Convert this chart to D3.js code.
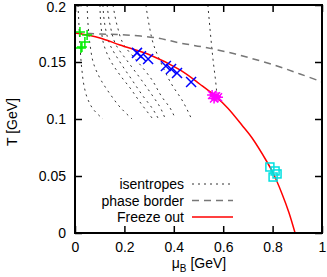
<!DOCTYPE html>
<html>
<head>
<meta charset="utf-8">
<script src="https://cdn.jsdelivr.net/npm/d3@7"></script>
<style>
body { margin: 0; background: #fff; }
text { font-family: "Liberation Sans", Arial, sans-serif; }
</style>
</head>
<body>
<script>
// isentropes, [muB, T] pairs
var isentropes = [
    [[0.012, 0.200], [0.016, 0.1825], [0.020, 0.165], [0.028, 0.143], [0.036, 0.1298], [0.053, 0.1167], [0.073, 0.1088], [0.113, 0.100]],
    [[0.049, 0.200], [0.053, 0.1825], [0.061, 0.165], [0.077, 0.1474], [0.105, 0.1342], [0.142, 0.1219], [0.182, 0.1105], [0.231, 0.100]],
    [[0.101, 0.200], [0.105, 0.1825], [0.117, 0.165], [0.142, 0.1518], [0.182, 0.1386], [0.223, 0.1272], [0.263, 0.1149], [0.312, 0.1009]],
    [[0.113, 0.200], [0.121, 0.1825], [0.142, 0.165], [0.182, 0.150], [0.231, 0.1342], [0.275, 0.1202], [0.312, 0.1096], [0.336, 0.1009]],
    [[0.130, 0.200], [0.142, 0.1825], [0.166, 0.165], [0.215, 0.150], [0.263, 0.136], [0.312, 0.121], [0.344, 0.1105], [0.364, 0.1009]],
    [[0.154, 0.200], [0.170, 0.1825], [0.198, 0.165], [0.255, 0.150], [0.312, 0.1342], [0.352, 0.1193], [0.385, 0.1096], [0.405, 0.1009]],
    [[0.287, 0.200], [0.300, 0.1825], [0.316, 0.1667], [0.352, 0.1474], [0.393, 0.1298], [0.433, 0.1167], [0.470, 0.1009]],
    [[0.538, 0.200], [0.547, 0.178], [0.559, 0.1518], [0.571, 0.1298], [0.575, 0.1202]]
];
var faseMu = [0, 0.105, 0.206, 0.332, 0.425, 0.518, 0.615, 0.709, 0.818, 0.911, 1.0];
var faseT = [0.1754, 0.1746, 0.1737, 0.1711, 0.1667, 0.1632, 0.1588, 0.1535, 0.1465, 0.1395, 0.1325];
var freezeMu = [0, 0.101, 0.182, 0.304, 0.425, 0.506, 0.567, 0.619, 0.680, 0.717, 0.777, 0.802, 0.838, 0.866, 0.891];
var freezeT = [0.1754, 0.1711, 0.1649, 0.1561, 0.143, 0.1305, 0.1203, 0.1095, 0.0935, 0.0833, 0.0625, 0.0526, 0.0345, 0.018, 0];
var verdes = [[0.020, 0.1763], [0.049, 0.1737], [0.040, 0.1675], [0.028, 0.1632], [0.024, 0.1623]];
var azules = [[0.251, 0.158], [0.267, 0.155], [0.296, 0.1526], [0.368, 0.1465], [0.389, 0.1439], [0.413, 0.1404], [0.470, 0.1325]];
var magentas = [[0.555, 0.121], [0.571, 0.120], [0.563, 0.118], [0.579, 0.119]];
var cianes = [[0.789, 0.0579], [0.810, 0.0544], [0.818, 0.0518], [0.802, 0.0491]];
var ticksX = [0, 0.2, 0.4, 0.6, 0.8, 1];
var ticksY = [0, 0.05, 0.1, 0.15, 0.2];
var leyenda = ["isentropes", "phase border", "Freeze out"];

function dibujar() {
    var svg = d3.select('body').append('svg').attr('width', 327).attr('height', 277);
    var x = d3.scaleLinear().domain([0, 1]).range([75, 322]);
    var y = d3.scaleLinear().domain([0, 0.2]).range([233, 5]);

    var clip = svg.append('defs').append('clipPath').attr('id', 'recorte');
    clip.append('rect').attr('x', 75).attr('y', 5).attr('width', 247).attr('height', 228);

    var linea = d3.line().x(d => x(d[0])).y(d => y(d[1])).curve(d3.curveMonotoneY);
    var suave = d3.line().x(d => x(d[0])).y(d => y(d[1])).curve(d3.curveCatmullRom.alpha(0.5));
    var zona = svg.append('g').attr('clip-path', 'url(#recorte)');

    zona.selectAll('.isen').data(isentropes).enter().append('path').attr('class', 'isen')
        .attr('d', linea).attr('fill', 'none').attr('stroke', '#333')
        .attr('stroke-width', 1).attr('stroke-dasharray', '2,4');

    var fase = faseMu.map((m, i) => [m, faseT[i]]);
    zona.append('path').datum(fase).attr('d', suave)
        .attr('fill', 'none').attr('stroke', '#777').attr('stroke-width', 1.5).attr('stroke-dasharray', '7,5');

    var freeze = freezeMu.map((m, i) => [m, freezeT[i]]);
    zona.append('path').datum(freeze).attr('d', suave)
        .attr('fill', 'none').attr('stroke', '#ff0000').attr('stroke-width', 1.5);

    // marcadores
    var mk = svg.append('g').attr('fill', 'none').attr('stroke-width', 1.5);
    mk.selectAll('.mas').data(verdes).enter().append('path')
        .attr('d', d => { var cx = x(d[0]), cy = y(d[1]); return `M${cx - 5},${cy}H${cx + 5}M${cx},${cy - 5}V${cy + 5}`; })
        .attr('stroke', '#00ee00');
    mk.selectAll('.cruz').data(azules).enter().append('path')
        .attr('d', d => { var cx = x(d[0]), cy = y(d[1]); return `M${cx - 5},${cy - 5}L${cx + 5},${cy + 5}M${cx - 5},${cy + 5}L${cx + 5},${cy - 5}`; })
        .attr('stroke', '#0000ff');
    mk.selectAll('.estrella').data(magentas).enter().append('path')
        .attr('d', d => {
            var cx = x(d[0]), cy = y(d[1]);
            return `M${cx - 5},${cy}H${cx + 5}M${cx},${cy - 5}V${cy + 5}M${cx - 4},${cy - 4}L${cx + 4},${cy + 4}M${cx - 4},${cy + 4}L${cx + 4},${cy - 4}`;
        })
        .attr('stroke', '#ff00ff');
    mk.selectAll('.cuadro').data(cianes).enter().append('rect')
        .attr('x', d => x(d[0]) - 4).attr('y', d => y(d[1]) - 4).attr('width', 8).attr('height', 8)
        .attr('stroke', '#00e0e0');

    // ejes con ticks hacia dentro en los cuatro lados
    var ejes = svg.append('g');
    ejes.append('g').attr('transform', 'translate(0,233)')
        .call(d3.axisBottom(x).tickValues(ticksX).tickSize(-7).tickPadding(9).tickFormat(d3.format('')));
    ejes.append('g').attr('transform', 'translate(0,5)')
        .call(d3.axisTop(x).tickValues(ticksX).tickSize(-7).tickFormat(''));
    var izq = ejes.append('g').attr('transform', 'translate(75,0)')
        .call(d3.axisLeft(y).tickValues(ticksY).tickSize(-7).tickPadding(9).tickFormat(d3.format('')));
    ejes.append('g').attr('transform', 'translate(322,0)')
        .call(d3.axisRight(y).tickValues(ticksY).tickSize(-7).tickFormat(''));
    ejes.selectAll('.domain').remove();
    ejes.selectAll('.tick line').attr('stroke', '#000').attr('stroke-width', 1.5);
    ejes.selectAll('.tick text').attr('font-size', 14).attr('fill', '#000')
        .attr('font-family', '"Liberation Sans", Arial, sans-serif');
    // el 0.2 de arriba se corta con el borde, bajarlo un poco
    izq.selectAll('.tick text').filter(d => d == 0.2).attr('dy', '0.45em');
    svg.append('rect').attr('x', 75).attr('y', 5).attr('width', 247).attr('height', 228)
        .attr('fill', 'none').attr('stroke', '#000').attr('stroke-width', 2);

    // leyenda
    var estilos = [
        { stroke: '#333', dash: '2,4', w: 1 },
        { stroke: '#777', dash: '7,5', w: 1.5 },
        { stroke: '#ff0000', dash: null, w: 1.5 }
    ];
    leyenda.forEach((t, i) => {
        var ly = 184 + i * 16.5;
        svg.append('text').attr('x', 184).attr('y', ly + 5).attr('text-anchor', 'end')
            .attr('font-size', 14).text(t);
        svg.append('line').attr('x1', 192).attr('x2', 233).attr('y1', ly).attr('y2', ly)
            .attr('stroke', estilos[i].stroke).attr('stroke-width', estilos[i].w)
            .attr('stroke-dasharray', estilos[i].dash);
    });

    // titulos de ejes
    var tx = svg.append('text').attr('x', 199).attr('y', 268).attr('text-anchor', 'middle').attr('font-size', 14);
    tx.append('tspan').text('μ');
    tx.append('tspan').attr('font-size', 10).attr('dy', 4).text('B');
    tx.append('tspan').attr('dy', -4).text(' [GeV]');
    svg.append('text').attr('transform', 'translate(17,122) rotate(-90)').attr('text-anchor', 'middle')
        .attr('font-size', 14).text('T [GeV]');
}
window.onload = () => {
    dibujar();
}
</script>
</body>
</html>
